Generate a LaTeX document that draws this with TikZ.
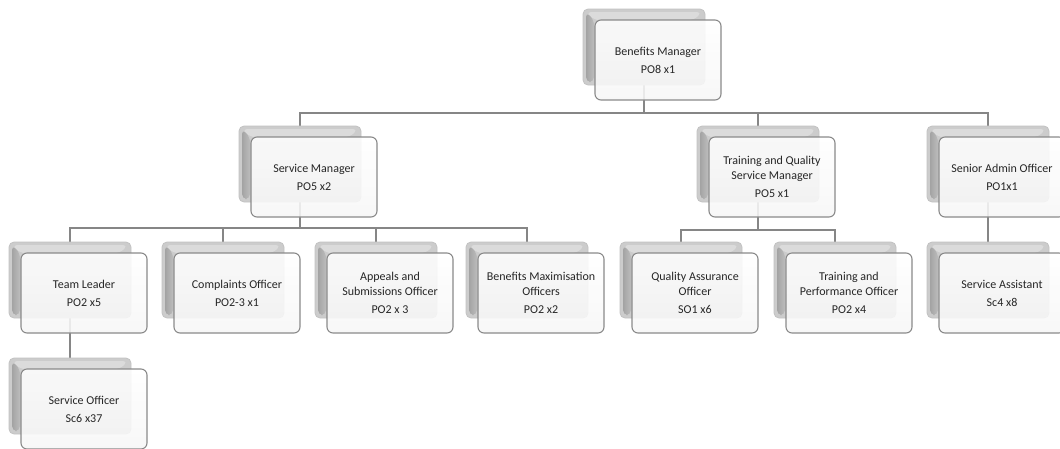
\documentclass[tikz,border=0pt]{standalone}
\usepackage{fontspec}
\setmainfont{Carlito}
\usetikzlibrary{backgrounds}

\begin{document}
\begin{tikzpicture}[x=1pt,y=-1pt,
    back/.style={rounded corners=5pt,minimum width=122pt,minimum height=76pt,
      fill=gray!40,draw=gray!48,line width=0.8pt,inner sep=0pt,
      path picture={
        % bevelled top and left faces
        \fill[gray!28] ([shift={(3pt,-3pt)}]path picture bounding box.north west)
          -- ([shift={(-3pt,-3pt)}]path picture bounding box.north east)
          -- ([shift={(-11pt,-11pt)}]path picture bounding box.north east)
          -- ([shift={(11pt,-11pt)}]path picture bounding box.north west) -- cycle;
        \shade[left color=gray!72,right color=gray!52]
          ([shift={(3pt,-3pt)}]path picture bounding box.north west)
          -- ([shift={(11pt,-11pt)}]path picture bounding box.north west)
          -- ([shift={(11pt,3pt)}]path picture bounding box.south west)
          -- ([shift={(3pt,3pt)}]path picture bounding box.south west) -- cycle;
      }},
    post/.style={rounded corners=6pt,minimum width=126pt,minimum height=80pt,
      top color=white,bottom color=gray!7,fill opacity=0.88,text opacity=1,
      draw=gray!92,line width=1.1pt,align=center,inner sep=2pt,
      text=black!85,font=\fontsize{12}{15}\selectfont},
    link/.style={draw=gray!95,line width=1.1pt}]
  \path[use as bounding box] (0,0) rectangle (1060,448);
  \clip (0,0) rectangle (1060,448);

  % top
  \node[back] (bm-b) at (644,47) {};
  \node[post] (bm) at ([shift={(14,13)}]bm-b.center) {Benefits Manager\\[3pt]PO8 x1};

  % managers
  \node[back] (sm-b) at (300,164) {};
  \node[post] (sm) at ([shift={(14,13)}]sm-b.center) {Service Manager\\[3pt]PO5 x2};
  \node[back] (tq-b) at (758,164) {};
  \node[post] (tq) at ([shift={(14,13)}]tq-b.center) {Training and Quality\\Service Manager\\[3pt]PO5 x1};
  \node[back] (sa-b) at (988,164) {};
  \node[post] (sa) at ([shift={(14,13)}]sa-b.center) {Senior Admin Officer\\[3pt]PO1x1};

  % officers
  \node[back] (tl-b) at (70,280) {};
  \node[post] (tl) at ([shift={(14,13)}]tl-b.center) {Team Leader\\[3pt]PO2 x5};
  \node[back] (co-b) at (223,280) {};
  \node[post] (co) at ([shift={(14,13)}]co-b.center) {Complaints Officer\\[3pt]PO2-3 x1};
  \node[back] (as-b) at (376,280) {};
  \node[post] (as) at ([shift={(14,13)}]as-b.center) {Appeals and\\Submissions Officer\\[3pt]PO2 x 3};
  \node[back] (bx-b) at (527,280) {};
  \node[post] (bx) at ([shift={(14,13)}]bx-b.center) {Benefits Maximisation\\Officers\\[3pt]PO2 x2};
  \node[back] (qa-b) at (681,280) {};
  \node[post] (qa) at ([shift={(14,13)}]qa-b.center) {Quality Assurance\\Officer\\[3pt]SO1 x6};
  \node[back] (tp-b) at (835,280) {};
  \node[post] (tp) at ([shift={(14,13)}]tp-b.center) {Training and\\Performance Officer\\[3pt]PO2 x4};
  \node[back] (sv-b) at (988,280) {};
  \node[post] (sv) at ([shift={(14,13)}]sv-b.center) {Service Assistant\\[3pt]Sc4 x8};

  \node[back] (so-b) at (70,396) {};
  \node[post] (so) at ([shift={(14,13)}]so-b.center) {Service Officer\\[3pt]Sc6 x37};

  % connectors, behind the boxes
  \coordinate (bus1) at (0,113);
  \coordinate (bus2) at (0,228);
  \coordinate (bus3) at (0,230);
  \begin{pgfonlayer}{background}
    \foreach \c in {sm,tq,sa}
      \draw[link] (bm-b.center) -- (bm-b.center |- bus1) -| (\c-b.north);
    \foreach \c in {tl,co,as,bx}
      \draw[link] (sm-b.center) -- (sm-b.center |- bus2) -| (\c-b.north);
    \foreach \c in {qa,tp}
      \draw[link] (tq-b.center) -- (tq-b.center |- bus3) -| (\c-b.north);
    \draw[link] (sa-b.center) -- (sv-b.north);
    \draw[link] (tl-b.center) -- (so-b.north);
  \end{pgfonlayer}
\end{tikzpicture}
\end{document}
